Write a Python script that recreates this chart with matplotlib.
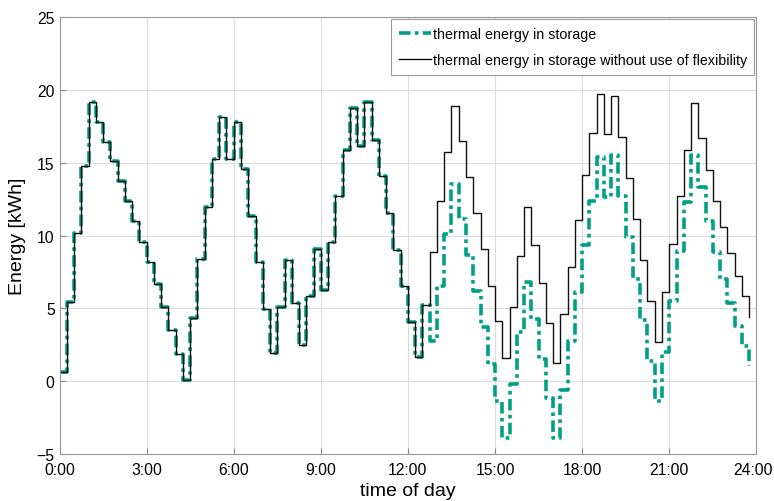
import matplotlib
matplotlib.use("Agg")
import matplotlib.pyplot as plt
import matplotlib.transforms as mtransforms
import numpy as np

# 15-minute steps over one day
hours = np.arange(96) * 0.25

# storage energy without flexibility (kWh)
no_flex = [0.66, 5.47, 10.18, 14.77, 19.16, 17.83, 16.46, 15.15, 13.78, 12.36, 11.03, 9.55,
           8.17, 6.68, 5.08, 3.55, 1.87, 0.09, 4.33, 8.4, 12.0, 15.27, 18.17, 15.27,
           17.79, 14.55, 11.38, 8.17, 4.97, 1.92, 5.08, 8.33, 5.36, 2.52, 5.88, 9.09,
           6.27, 9.55, 12.75, 15.89, 18.75, 16.18, 19.2, 16.59, 14.08, 11.56, 9.04, 6.57,
           4.09, 1.69, 5.24, 8.9, 12.38, 15.77, 18.93, 16.5, 14.05, 11.56, 9.09, 6.57,
           4.12, 1.58, 5.08, 8.63, 12.0, 9.36, 6.75, 4.0, 1.26, 4.62, 7.87, 11.1,
           14.19, 17.05, 19.73, 16.98, 19.57, 16.8, 13.96, 11.15, 8.33, 5.54, 2.68, 6.11,
           9.43, 12.7, 15.91, 19.09, 16.71, 14.51, 12.4, 10.58, 8.81, 7.25, 5.84, 4.40]

# storage energy with use of flexibility (kWh)
storage = no_flex[:51] + [
    2.79, 6.57, 10.12, 13.55, 11.15, 8.67, 6.22, 3.71, 1.19,
    -1.33, -3.9, -0.19, 3.37, 6.84, 4.28, 1.53, -1.17, -3.91, -0.58, 2.79, 6.15,
    9.36, 12.4, 15.38, 12.64, 15.54, 12.7, 9.89, 7.03, 4.23, 1.41, -1.37, 2.03,
    5.54, 8.97, 12.29, 15.54, 13.32, 11.03, 8.9, 7.03, 5.38, 3.82, 2.4, 1.03]

xticks = np.arange(0, 25, 3)
xlabels = ["%d:00" % h for h in xticks]

plt.rcParams['font.family'] = ['Liberation Sans', 'DejaVu Sans']

fig = plt.figure(figsize=(7.74, 5.02), dpi=100)
ax = fig.add_axes([0.0769, 0.0934, 0.9003, 0.8703])

teal = '#00A088'
ax.plot(hours, storage, drawstyle='steps-post', color=teal, lw=2.6,
        linestyle=(0, (3.2, 1.2, 1.0, 1.2)), label='thermal energy in storage')
ax.plot(hours, no_flex, drawstyle='steps-post', color='#111111', lw=1.0,
        label='thermal energy in storage without use of flexibility')

ax.set_xlim(0, 24)
ax.set_ylim(-5, 25)
ax.set_xticks(xticks)
ax.set_xticklabels(xlabels)
ax.set_yticks(np.arange(-5, 26, 5))
ax.grid(True, color='#dcdcdc', lw=0.8)
ax.set_axisbelow(True)
ax.tick_params(direction='in', length=4, labelsize=11.3, color='#888888', top=False, right=False)
ax.tick_params(axis='x', pad=6)
for s in ax.spines.values():
    s.set_color('#999999')
    s.set_linewidth(0.8)

# nudge the last x label so it stays inside the image
last = ax.get_xticklabels()[-1]
last.set_transform(last.get_transform() + mtransforms.ScaledTranslation(-3 / 100, 0, fig.dpi_scale_trans))

ax.set_xlabel("time of day", fontsize=14, labelpad=3)
ax.set_ylabel("Energy [kWh]", fontsize=14, labelpad=8)

leg = ax.legend(loc='upper right', handlelength=2.3, handletextpad=0.1,
                borderaxespad=0.15, fancybox=False, framealpha=1, labelspacing=0.9,
                borderpad=0.5, prop={'size': 10.3})
leg.get_frame().set_edgecolor('#999999')
leg.get_frame().set_linewidth(0.8)

fig.savefig("out.png", dpi=100)
